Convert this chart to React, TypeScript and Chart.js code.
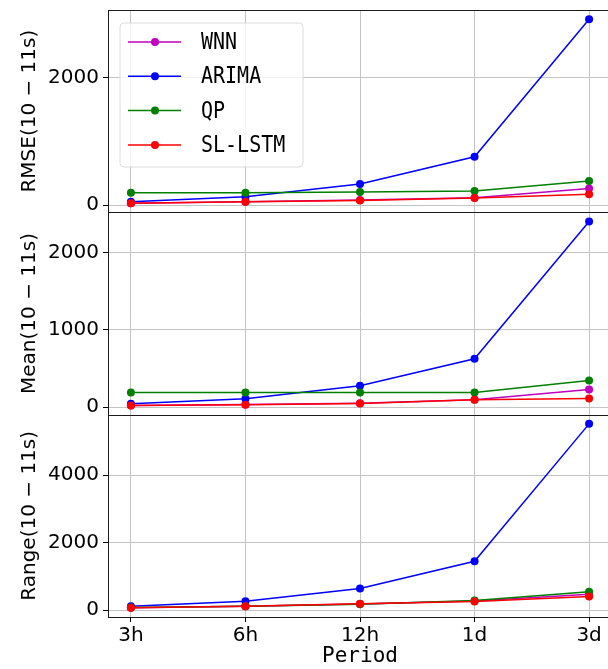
import React, { useEffect, useRef } from 'react';
import { Chart, registerables } from 'chart.js';
Chart.register(...registerables);

const periods = ['3h', '6h', '12h', '1d', '3d'];
const methods = ['WNN', 'ARIMA', 'QP', 'SL-LSTM'];
const methodColors = ['#bf00bf', '#0000ff', '#008000', '#ff0000'];

const rmseWNN = [30, 50, 80, 115, 262];
const rmseARIMA = [52, 130, 330, 759, 2922];
const rmseQP = [193, 193, 204, 220, 377];
const rmseSLLSTM = [30, 50, 72, 110, 168];

const meanWNN = [21, 32, 50, 95, 229];
const meanARIMA = [43, 108, 277, 627, 2407];
const meanQP = [190, 190, 190, 190, 346];
const meanSLLSTM = [21, 30, 47, 95, 112];

const rangeWNN = [75, 115, 180, 270, 470];
const rangeARIMA = [118, 266, 641, 1448, 5515];
const rangeQP = [80, 115, 175, 286, 543];
const rangeSLLSTM = [70, 118, 188, 257, 405];

const rmseTicks = [0, 2000];
const meanTicks = [0, 1000, 2000];
const rangeTicks = [0, 2000, 4000];

const rmseTitle = 'RMSE(10 − 11s)';
const meanTitle = 'Mean(10 − 11s)';
const rangeTitle = 'Range(10 − 11s)';
const xTitle = 'Period';

const panels = [
  { id: 'yRange', series: [rangeWNN, rangeARIMA, rangeQP, rangeSLLSTM], ticks: rangeTicks, title: rangeTitle },
  { id: 'yMean', series: [meanWNN, meanARIMA, meanQP, meanSLLSTM], ticks: meanTicks, title: meanTitle },
  { id: 'yRMSE', series: [rmseWNN, rmseARIMA, rmseQP, rmseSLLSTM], ticks: rmseTicks, title: rmseTitle },
];

const drawOrder = [3, 2, 1, 0]; // SL-LSTM on top

function paddedRange(series: number[][]) {
  const all = series.flat();
  const lo = Math.min(...all);
  const hi = Math.max(...all);
  const pad = (hi - lo) * 0.05;
  return { min: lo - pad, max: hi + pad };
}

const framePlugin = {
  id: 'framePlugin',
  afterDatasetsDraw(chart: any) {
    const { ctx, chartArea } = chart;
    ctx.save();
    ctx.strokeStyle = '#1a1a1a';
    ctx.lineWidth = 1;
    ['yRMSE', 'yMean', 'yRange'].forEach((id) => {
      const s = chart.scales[id];
      const t = Math.round(s.top) + 0.5;
      const b = Math.round(s.bottom) + 0.5;
      ctx.strokeRect(Math.round(chartArea.left) + 0.5, t, Math.round(chartArea.right - chartArea.left), b - t);
    });
    // legend
    const lx = chartArea.left + 12;
    const ly = chart.scales.yRMSE.top + 13;
    const w = 183;
    const h = 144;
    const r = 4;
    ctx.beginPath();
    ctx.moveTo(lx + r, ly);
    ctx.arcTo(lx + w, ly, lx + w, ly + h, r);
    ctx.arcTo(lx + w, ly + h, lx, ly + h, r);
    ctx.arcTo(lx, ly + h, lx, ly, r);
    ctx.arcTo(lx, ly, lx + w, ly, r);
    ctx.closePath();
    ctx.fillStyle = 'rgba(255,255,255,0.8)';
    ctx.fill();
    ctx.strokeStyle = '#dcdcdc';
    ctx.lineWidth = 1;
    ctx.stroke();
    methods.forEach((m, i) => {
      const y = ly + 19 + i * 34.3;
      ctx.strokeStyle = methodColors[i];
      ctx.lineWidth = 1.5;
      ctx.beginPath();
      ctx.moveTo(lx + 8, y);
      ctx.lineTo(lx + 61, y);
      ctx.stroke();
      ctx.fillStyle = methodColors[i];
      ctx.beginPath();
      ctx.arc(lx + 35, y, 4, 0, Math.PI * 2);
      ctx.fill();
      ctx.save();
      ctx.translate(lx + 81, y);
      ctx.scale(1, 1.15);
      ctx.fillStyle = '#000';
      ctx.font = '20px "DejaVu Sans Mono"';
      ctx.textBaseline = 'middle';
      ctx.textAlign = 'left';
      ctx.fillText(m, 0, 1);
      ctx.restore();
    });
    ctx.restore();
  },
};

export default function App() {
  const ref = useRef<HTMLCanvasElement>(null);
  useEffect(() => {
    if (!ref.current) return;
    const datasets: any[] = [];
    panels.forEach((p) => {
      p.series.forEach((vals, i) => {
        datasets.push({
          label: methods[i],
          data: vals.map((v, k) => ({ x: k, y: v })),
          yAxisID: p.id,
          xAxisID: 'x',
          borderColor: methodColors[i],
          backgroundColor: methodColors[i],
          pointBackgroundColor: methodColors[i],
          pointBorderWidth: 0,
          pointRadius: 4,
          borderWidth: 1.5,
          order: drawOrder[i],
          tension: 0,
        });
      });
    });
    const yScales: any = {};
    panels.forEach((p) => {
      const rng = paddedRange(p.series);
      yScales[p.id] = {
        type: 'linear',
        position: 'left',
        stack: 'panels',
        stackWeight: 1,
        offset: false,
        min: rng.min,
        max: rng.max,
        afterBuildTicks: (s: any) => {
          s.ticks = p.ticks.map((v) => ({ value: v }));
        },
        afterFit: (s: any) => {
          s.width = 108;
          s.paddingTop = 0;
          s.paddingBottom = 0;
        },
        ticks: {
          color: '#000',
          font: { family: '"DejaVu Sans"', size: 20 },
          padding: 4,
          callback: (v: any) => String(v),
        },
        grid: {
          color: '#c4c4c4',
          lineWidth: 1,
          drawTicks: true,
          tickLength: 5,
          tickColor: '#000',
        },
        border: { display: false },
        title: {
          display: true,
          text: p.title,
          color: '#000',
          font: { family: '"DejaVu Sans"', size: 20, lineHeight: 1.2 },
          padding: { top: 18, bottom: 0 },
        },
      };
    });
    const chart = new Chart(ref.current, {
      type: 'line',
      data: { datasets },
      options: {
        animation: false,
        responsive: false,
        maintainAspectRatio: false,
        layout: { padding: { left: 0, right: 8, top: 10, bottom: 0 } },
        plugins: { legend: { display: false }, tooltip: { enabled: false } },
        scales: {
          x: {
            type: 'linear',
            min: -0.2,
            max: 4.2,
            afterBuildTicks: (s: any) => {
              s.ticks = periods.map((_, k) => ({ value: k }));
            },
            afterFit: (s: any) => {
              s.height = 52;
            },
            ticks: {
              color: '#000',
              font: { family: '"DejaVu Sans"', size: 20 },
              padding: 2,
              maxRotation: 0,
              callback: (v: any) => periods[v] ?? '',
            },
            grid: {
              color: '#c4c4c4',
              lineWidth: 1,
              drawTicks: true,
              tickLength: 5,
              tickColor: '#000',
            },
            border: { display: false },
            title: {
              display: true,
              text: xTitle,
              color: '#000',
              font: { family: '"DejaVu Sans Mono"', size: 21, lineHeight: 1.2 },
              padding: { top: 0, bottom: 0 },
            },
          },
          ...yScales,
        },
      },
      plugins: [framePlugin],
    });
    return () => chart.destroy();
  }, []);
  return (
    <div style={{ position: 'fixed', left: 0, top: 0, width: 608, height: 669, overflow: 'hidden', background: '#fff' }}>
      <canvas ref={ref} width={620} height={669} style={{ display: 'block' }} />
    </div>
  );
}
